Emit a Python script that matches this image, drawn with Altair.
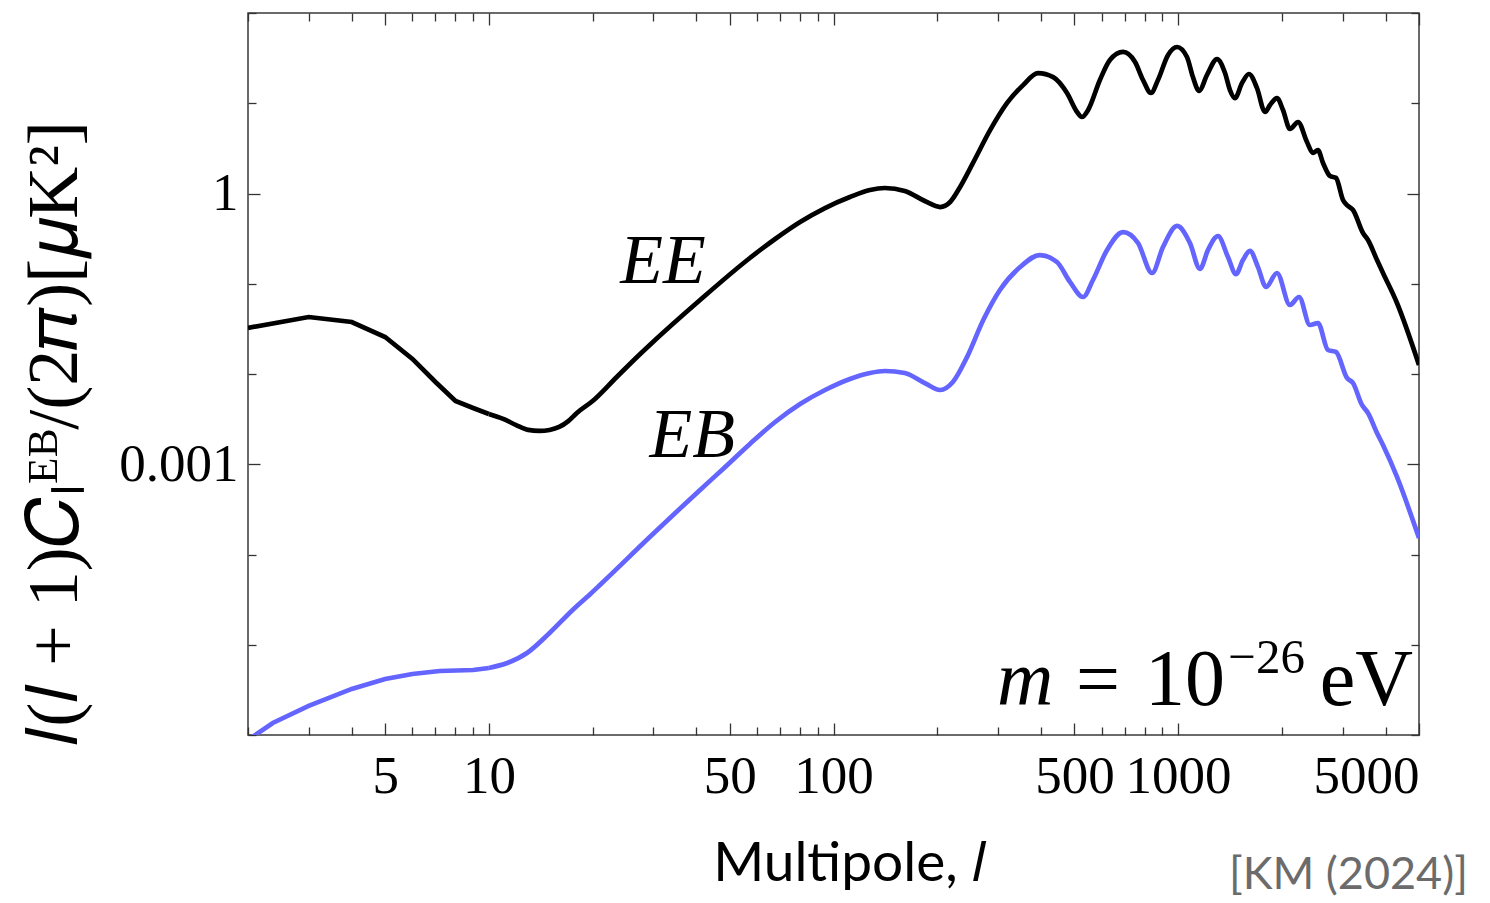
import altair as alt
import pandas as pd

# ---- data ----
ee_l = [2, 3, 4, 5, 6, 7, 8, 9, 10, 11, 12, 13, 14, 15, 16, 17, 18, 20, 23.5, 27.1, 29.3,
        41.0, 57.2, 67.7, 80.0, 94.5, 111.6, 127.6, 141, 161, 184, 204, 218, 233, 254, 285,
        319, 355, 392, 434, 476, 509, 526, 548, 593, 634, 692, 750, 791, 834, 874, 935, 993,
        1061, 1104, 1150, 1213, 1297, 1368, 1414, 1462, 1532, 1605, 1693, 1787, 1848, 1936,
        2015, 2111, 2228, 2365, 2462, 2545, 2633, 2759, 2871, 3009, 3111, 3217, 3439, 3556,
        3777, 3931, 4316, 5000]
ee_v = [0.0324, 0.0428, 0.0377, 0.0257, 0.0147, 0.00815, 0.00502, 0.0042, 0.00361,
        0.00318, 0.00272, 0.0024, 0.00234, 0.0024, 0.00259, 0.00301, 0.0037, 0.00502,
        0.00927, 0.01585, 0.021, 0.0661, 0.193, 0.313, 0.483, 0.690, 0.914, 1.094, 1.15,
        1.066, 0.826, 0.708, 0.805, 1.18, 2.18, 5.06, 10.07, 15.9, 21.6, 19.5, 13.0, 8.0,
        7.04, 8.42, 18.1, 30.1, 37.0, 28.6, 18.1, 13.0, 18.1, 34.3, 42.0, 32.5, 19.5, 13.7,
        20.6, 30.9, 21.6, 14.0, 11.4, 16.7, 21.1, 14.8, 8.0, 9.57, 11.4, 8.42, 5.19, 6.19,
        3.72, 2.81, 3.03, 2.18, 1.56, 1.49, 0.848, 0.728, 0.657, 0.365, 0.305, 0.183,
        0.1315, 0.0612, 0.0126]
eb_l = [2, 2.36, 3, 4, 5, 6, 7.2, 9, 10, 11.3, 12.9, 15.0, 17.5, 19.7, 21.0, 29.3, 41.0,
        47.8, 57.2, 67.7, 80.0, 94.5, 111.6, 127.6, 141, 161, 184, 204, 222, 244, 272, 304,
        348, 397, 445, 486, 530, 566, 622, 692, 765, 840, 904, 993, 1082, 1157, 1221, 1305,
        1395, 1472, 1542, 1616, 1705, 1799, 1936, 2111, 2243, 2413, 2545, 2722, 2871, 3090,
        3217, 3416, 3556, 3777, 3931, 4316, 5000]
eb_v = [8.8e-7, 1.36e-6, 2.1e-6, 3.24e-6, 4.18e-6, 4.74e-6, 5.12e-6, 5.25e-6, 5.53e-6,
        6.28e-6, 8.1e-6, 1.35e-5, 2.43e-5, 3.65e-5, 4.59e-5, 1.56e-4, 5.19e-4, 8.87e-4,
        1.68e-3, 2.94e-3, 4.65e-3, 6.65e-3, 8.81e-3, 1.026e-2, 1.08e-2, 1.026e-2, 7.94e-3,
        6.65e-3, 8.15e-3, 1.54e-2, 3.96e-2, 8.53e-2, 0.153, 0.208, 0.174, 0.104, 0.0713,
        0.110, 0.237, 0.374, 0.283, 0.1315, 0.255, 0.437, 0.283, 0.146, 0.237, 0.338, 0.198,
        0.128, 0.183, 0.231, 0.153, 0.092, 0.1315, 0.0582, 0.0713, 0.0349, 0.0367, 0.01845,
        0.01754, 0.00904, 0.00794, 0.00454, 0.0037, 0.00222, 0.00163, 7.23e-4, 1.52e-4]

series_names = ["EE", "EB"]
series_colors = ["#000000", "#6464ff"]

x_domain = [2, 5000]
y_domain = [1e-6, 100]
x_major = [5, 10, 50, 100, 500, 1000, 5000]
x_minor = [2, 3, 4, 6, 7, 8, 9, 20, 30, 40, 60, 70, 80, 90, 200, 300, 400, 600, 700,
           800, 900, 2000, 3000, 4000]
y_major = [0.001, 1]
y_minor = [1e-6, 1e-5, 1e-4, 0.01, 0.1, 10, 100]

df = pd.DataFrame({
    "l": ee_l + eb_l,
    "v": ee_v + eb_v,
    "s": ["EE"] * len(ee_l) + ["EB"] * len(eb_l),
})
one = pd.DataFrame({"k": [0]})

W, H = 1171, 722
SERIF = "Liberation Serif"
SANS = "Lato"
Y_TITLE = "𝑙(𝑙 + 1)𝐶ₗᴱᴮ/(2𝜋)[𝜇K²]"
X_TITLE = "Multipole, 𝑙"
LW = 4.7


def xs():
    return alt.Scale(type="log", domain=x_domain, nice=False)


def ys():
    return alt.Scale(type="log", domain=y_domain, nice=False)


x_main = alt.X("l:Q", scale=xs(), axis=alt.Axis(
    orient="bottom", values=x_major, format="d", tickSize=12, offset=-12,
    labelPadding=15, domain=False, grid=False,
    title=X_TITLE, titleFont=SANS, titleFontSize=55, titleFontWeight="normal",
    titleX=601, titleY=157, titleBaseline="alphabetic", titleAlign="center",
    titleColor="black"))
y_main = alt.Y("v:Q", scale=ys(), axis=alt.Axis(
    orient="left", values=y_major, tickSize=12, offset=-12, labelPadding=10,
    labelExpr="datum.value > 0.5 ? '1' : '0.001'", domain=False, grid=False,
    title=Y_TITLE, titleFont=SERIF, titleFontSize=72, titleFontWeight="normal",
    titleAngle=270, titleX=-184, titleY=420, titleBaseline="alphabetic",
    titleAlign="center", titleColor="black"))
col = alt.Color("s:N", scale=alt.Scale(domain=series_names, range=series_colors),
                legend=None)

# low multipoles: straight segments between integer l, higher l: smooth
lines_low = alt.Chart(df).transform_filter("datum.l <= 10").mark_line(
    strokeWidth=LW, interpolate="linear", clip=True
).encode(x=x_main, y=y_main, color=col)
lines_high = alt.Chart(df).transform_filter("datum.l >= 10").mark_line(
    strokeWidth=LW, interpolate="monotone", clip=True
).encode(x=x_main, y=y_main, color=col)


def txt(text, lx, vy, size, style="normal", align="center", font=SERIF):
    return alt.Chart(one).mark_text(
        text=text, font=font, fontSize=size, fontStyle=style, align=align,
        baseline="alphabetic", color="black").encode(x=alt.datum(lx), y=alt.datum(vy))


ee_lab = txt("EE", 32.0, 0.102, 70, "italic")
eb_lab = txt("EB", 38.9, 0.0012, 70, "italic")
m_lab = txt("m", 360, 2.15e-6, 78, "italic")
eq_lab = txt("=", 585, 2.15e-6, 78)
ten_lab = txt("10", 1368, 2.15e-6, 80, align="right")
exp_lab = txt("−26", 2334, 4.87e-6, 49, align="right")
ev_lab = txt("eV", 4804, 2.15e-6, 80, align="right")
km_lab = alt.Chart(one).mark_text(
    text="[KM (2024)]", font=SANS, fontSize=45, align="right", baseline="alphabetic",
    color="#6b6b6b").encode(x=alt.value(1220), y=alt.value(876))

main = alt.layer(lines_low, lines_high, ee_lab, eb_lab, m_lab, eq_lab, ten_lab,
                 exp_lab, ev_lab, km_lab)


def tick_layer(xo, xv, xsz, yo, yv, ysz):
    return alt.Chart(df).mark_line(opacity=0).encode(
        x=alt.X("l:Q", scale=xs(), axis=alt.Axis(
            orient=xo, values=xv, tickSize=xsz, offset=-xsz, labels=False,
            domain=False, grid=False, title=None)),
        y=alt.Y("v:Q", scale=ys(), axis=alt.Axis(
            orient=yo, values=yv, tickSize=ysz, offset=-ysz, labels=False,
            domain=False, grid=False, title=None)),
        detail="s:N",
    )


t_minor_bl = tick_layer("bottom", x_minor, 8, "left", y_minor, 8)
t_major_tr = tick_layer("top", x_major, 12, "right", y_major, 12)
t_minor_tr = tick_layer("top", x_minor, 8, "right", y_minor, 8)

chart = alt.layer(main, t_minor_bl, t_major_tr, t_minor_tr).resolve_scale(
    x="independent", y="independent"
).properties(
    width=W, height=H,
    padding={"left": 240, "top": 5, "right": 55, "bottom": 168},
    autosize=alt.AutoSizeParams(type="none"),
).configure_view(
    stroke="#3a3a3a", strokeWidth=1.5
).configure_axis(
    labelFont=SERIF, labelFontSize=53, labelColor="black", tickColor="#333333",
    tickWidth=1.3
)

chart.save("out.html", embed_options={"renderer": "svg", "actions": False})
